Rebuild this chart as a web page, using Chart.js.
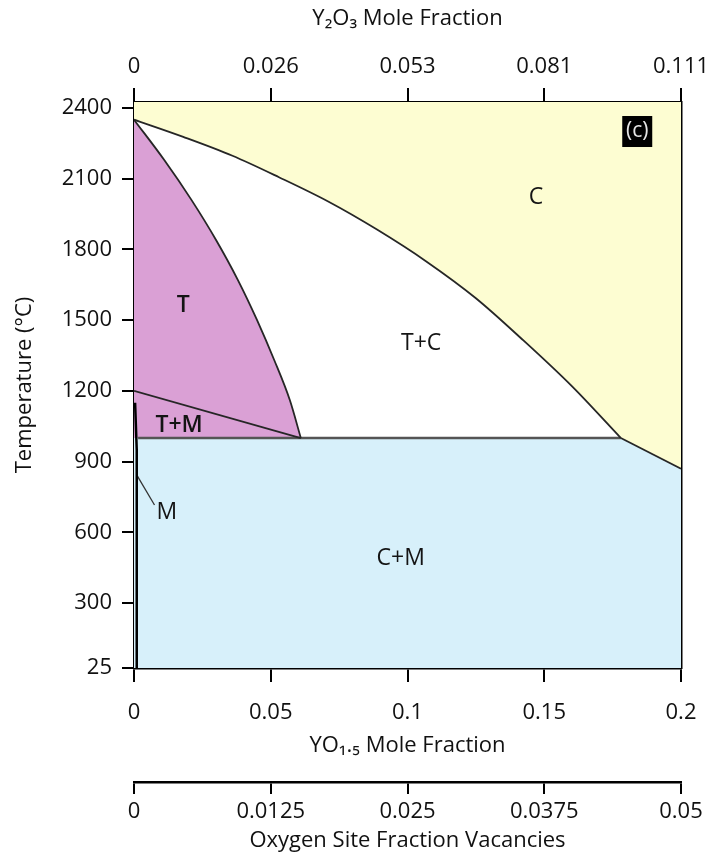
<!DOCTYPE html>
<html lang="en">
<head>
    <meta charset="UTF-8">
    <title>ZrO2 - YO1.5 Phase Diagram</title>
    <style>
        body { margin: 0; background: #fff; }
        #phaseChart { display: block; }
    </style>
    <script src="https://cdn.jsdelivr.net/npm/chart.js"></script>
</head>
<body>
    <canvas id="phaseChart" width="707" height="860"></canvas>
    <script>
        // axis ticks
        const tempTicks = [25, 300, 600, 900, 1200, 1500, 1800, 2100, 2400];
        const tempMin = 25, tempMax = 2425;
        const yo15Ticks = [0, 0.05, 0.1, 0.15, 0.2];
        const yo15Labels = ['0', '0.05', '0.1', '0.15', '0.2'];
        const y2o3Labels = ['0', '0.026', '0.053', '0.081', '0.111'];
        const vacancyTicks = [0, 0.0125, 0.025, 0.0375, 0.05];
        const vacancyLabels = ['0', '0.0125', '0.025', '0.0375', '0.05'];

        // phase boundaries (YO1.5 fraction, temperature)
        const tBoundaryX = [0, 0.011, 0.021, 0.030, 0.038, 0.045, 0.0513, 0.057, 0.061];
        const tBoundaryT = [2350, 2180, 2010, 1840, 1670, 1500, 1330, 1160, 1000];
        const cBoundaryX = [0, 0.018, 0.036, 0.053, 0.071, 0.089, 0.107, 0.125, 0.142, 0.160, 0.178];
        const cBoundaryT = [2350, 2277, 2197, 2106, 2003, 1883, 1748, 1593, 1418, 1221, 1000];
        const cmBoundaryX = [0.178, 0.2];
        const cmBoundaryT = [1000, 870];
        const tmBoundaryX = [0, 0.061];
        const tmBoundaryT = [1200, 1000];
        const eutectoidX = [0.0015, 0.178];
        const eutectoidT = [1000, 1000];
        const cmFieldX = [0, 0.178, 0.2];
        const cmFieldT = [1000, 1000, 870];
        const mSolvusX = [0.0004, 0.001, 0.001];
        const mSolvusT = [1150, 950, 25];
        const mPointerX = [0.0012, 0.0075];
        const mPointerT = [840, 716];

        // phase field labels
        const phaseNames = ['C', 'T', 'T+C', 'T+M', 'M', 'C+M'];
        const phaseX = [0.147, 0.018, 0.105, 0.0165, 0.012, 0.0975];
        const phaseT = [2022, 1564, 1403, 1055, 686, 491];
        const panelTag = '(c)';
        const panelX = 0.184, panelT = 2302;

        const pts = (xs, ts) => xs.map((x, i) => ({ x: x, y: ts[i] }));

        function area(data, fill, color, order, smooth) {
            return { data: data, showLine: true, fill: fill, backgroundColor: color,
                     borderWidth: 0, pointRadius: 0, order: order,
                     cubicInterpolationMode: smooth ? 'monotone' : 'default' };
        }
        function boundary(data, color, width, smooth) {
            return { data: data, showLine: true, fill: false, borderColor: color,
                     borderWidth: width, pointRadius: 0, order: 1,
                     cubicInterpolationMode: smooth ? 'monotone' : 'default' };
        }

        const yellow = '#fdfdd2', pink = '#daa0d5', blue = '#d7f0fa';

        // C field fills the whole plot, the other fields are drawn over it
        const cField = {
            id: 'cField',
            beforeDatasetsDraw(chart) {
                const { ctx, chartArea: a } = chart;
                ctx.save();
                ctx.fillStyle = yellow;
                ctx.fillRect(a.left, a.top, a.right - a.left, a.bottom - a.top);
                ctx.restore();
            }
        };

        const boldNames = ['T', 'T+M'];
        const phaseLabels = {
            id: 'phaseLabels',
            afterDatasetsDraw(chart) {
                const { ctx, scales: { x, y } } = chart;
                ctx.save();
                ctx.textAlign = 'center';
                ctx.textBaseline = 'middle';
                ctx.fillStyle = '#141414';
                phaseNames.forEach((name, i) => {
                    ctx.font = (boldNames.includes(name) ? '600 ' : '') + "23px 'Open Sans'";
                    ctx.fillText(name, x.getPixelForValue(phaseX[i]), y.getPixelForValue(phaseT[i]));
                });
                const px = x.getPixelForValue(panelX), py = y.getPixelForValue(panelT);
                ctx.fillStyle = '#000';
                ctx.fillRect(px - 15, py - 15, 30, 31);
                ctx.fillStyle = '#e6e6e6';
                ctx.font = "21px 'Open Sans'";
                ctx.fillText(panelTag, px, py);
                ctx.restore();
            }
        };

        Chart.defaults.font.family = "'Open Sans', sans-serif";
        Chart.defaults.color = '#111';

        const tickFont = { size: 22 };
        const axisGrid = (len) => ({ drawOnChartArea: false, tickLength: len, color: '#000', lineWidth: 2 });
        const axisBorder = { color: '#000', width: 2.5 };
        const fitH = (h) => (s) => { s.height = h; s.paddingLeft = 0; s.paddingRight = 0; };
        const fitW = (w) => (s) => { s.width = w; s.paddingTop = 0; s.paddingBottom = 0; };

        new Chart(document.getElementById('phaseChart').getContext('2d'), {
            type: 'scatter',
            data: {
                datasets: [
                    boundary(pts(cBoundaryX, cBoundaryT), '#262626', 1.8, true),
                    boundary(pts(tBoundaryX, tBoundaryT), '#262626', 1.8, true),
                    boundary(pts(cmBoundaryX, cmBoundaryT), '#262626', 1.8),
                    boundary(pts(tmBoundaryX, tmBoundaryT), '#262626', 1.8),
                    boundary(pts(eutectoidX, eutectoidT), '#555', 2.5),
                    boundary(pts(mSolvusX, mSolvusT), '#000', 2.5),
                    boundary(pts(mPointerX, mPointerT), '#333', 1.3),
                    area(pts(cBoundaryX, cBoundaryT), { value: 1000 }, '#ffffff', 4, true),
                    area(pts(tBoundaryX, tBoundaryT), { value: 1000 }, pink, 3, true),
                    area(pts(cmFieldX, cmFieldT), 'start', blue, 2)
                ]
            },
            options: {
                responsive: false,
                animation: false,
                layout: { padding: { top: 0, right: 26, bottom: 0, left: 0 } },
                plugins: { legend: { display: false }, tooltip: { enabled: false } },
                scales: {
                    x: {
                        type: 'linear', position: 'bottom', weight: 0, min: 0, max: 0.2,
                        afterBuildTicks: s => { s.ticks = yo15Ticks.map(v => ({ value: v })); },
                        afterFit: fitH(114),
                        ticks: { callback: (v, i) => yo15Labels[i], padding: 18, font: tickFont, maxRotation: 0, autoSkip: false },
                        grid: axisGrid(14),
                        border: axisBorder,
                        title: { display: true, text: 'YO₁.₅ Mole Fraction', font: tickFont, padding: { top: 0, bottom: 23 } }
                    },
                    x3: {
                        type: 'linear', position: 'bottom', weight: 1, min: 0, max: 0.05,
                        afterBuildTicks: s => { s.ticks = vacancyTicks.map(v => ({ value: v })); },
                        afterFit: fitH(78),
                        ticks: { callback: (v, i) => vacancyLabels[i], padding: 5, font: tickFont, maxRotation: 0, autoSkip: false },
                        grid: axisGrid(12),
                        border: axisBorder,
                        title: { display: true, text: 'Oxygen Site Fraction Vacancies', font: tickFont, padding: { top: 0, bottom: 6 } }
                    },
                    x2: {
                        type: 'linear', position: 'top', min: 0, max: 0.2,
                        afterBuildTicks: s => { s.ticks = yo15Ticks.map(v => ({ value: v })); },
                        afterFit: fitH(102),
                        ticks: { callback: (v, i) => y2o3Labels[i], padding: 8, font: tickFont, maxRotation: 0, autoSkip: false },
                        grid: axisGrid(14),
                        border: axisBorder,
                        title: { display: true, text: 'Y₂O₃ Mole Fraction', font: tickFont, padding: { top: 6, bottom: 0 } }
                    },
                    y: {
                        type: 'linear', position: 'left', min: tempMin, max: tempMax,
                        afterBuildTicks: s => { s.ticks = tempTicks.map(v => ({ value: v })); },
                        afterFit: fitW(134),
                        ticks: { callback: v => String(v), padding: 10, font: tickFont, autoSkip: false },
                        grid: axisGrid(12),
                        border: axisBorder,
                        title: { display: true, text: 'Temperature (°C)', font: tickFont, padding: { top: 12, bottom: 0 } }
                    },
                    y2: {
                        type: 'linear', position: 'right', min: tempMin, max: tempMax,
                        afterFit: fitW(0),
                        ticks: { display: false },
                        grid: { display: false },
                        border: axisBorder
                    }
                }
            },
            plugins: [cField, phaseLabels]
        });
    </script>
</body>
</html>
